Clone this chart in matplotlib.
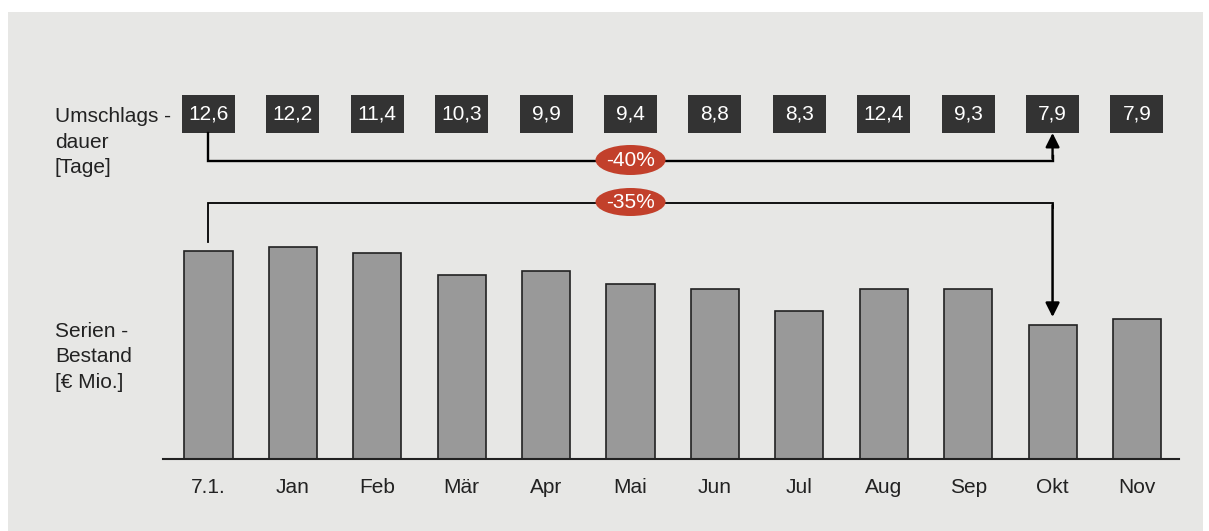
import matplotlib
matplotlib.use("Agg")
import matplotlib.pyplot as plt
from matplotlib.patches import Rectangle, Ellipse

# ---- data ----
categories = ["7.1.", "Jan", "Feb", "Mär", "Apr", "Mai", "Jun", "Jul", "Aug", "Sep", "Okt", "Nov"]
bestand = [20.8, 21.2, 20.6, 18.4, 18.8, 17.5, 17.0, 14.8, 17.0, 17.0, 13.4, 14.0]
umschlag = [12.6, 12.2, 11.4, 10.3, 9.9, 9.4, 8.8, 8.3, 12.4, 9.3, 7.9, 7.9]
umschlag_labels = ["12,6", "12,2", "11,4", "10,3", "9,9", "9,4", "8,8", "8,3", "12,4", "9,3", "7,9", "7,9"]
change_umschlag = "-40%"
change_bestand = "-35%"
from_idx, to_idx = 0, 10

plt.rcParams['font.family'] = ['Liberation Sans', 'DejaVu Sans']

W, H = 1209, 531
fig = plt.figure(figsize=(W / 100, H / 100), dpi=100, facecolor="white")

# gray panel
bg = Rectangle((8 / W, 0), (1203 - 8) / W, (H - 12) / H, transform=fig.transFigure,
               facecolor="#e7e7e5", edgecolor="none", zorder=-10)
fig.patches.append(bg)

# axes: left 163px, right 1179px, bottom at 459px from top, top at 12px from top
ax = fig.add_axes([163 / W, (H - 459) / H, (1179 - 163) / W, (459 - 12) / H])
ax.set_zorder(5)
ax.set_facecolor("none")
ax.set_xlim(-0.539, 11.498)
ax.set_ylim(0, 44.7)
for s in ["top", "right", "left"]:
    ax.spines[s].set_visible(False)
ax.spines["bottom"].set_linewidth(1.5)
ax.spines["bottom"].set_color("#222222")
ax.set_yticks([])
x = list(range(len(categories)))
ax.set_xticks(x)
ax.set_xticklabels(categories, fontsize=15, color="#222222")
ax.tick_params(axis="x", length=0, pad=13.5)

ax.bar(x, bestand, width=0.57, color="#999999", edgecolor="#222222", linewidth=1.2, zorder=2)

# value boxes
box_bottom, box_top = 32.6, 36.4
bw = 0.628
for i, lab in enumerate(umschlag_labels):
    ax.add_patch(Rectangle((i - bw / 2, box_bottom), bw, box_top - box_bottom,
                           facecolor="#333333", edgecolor="none", zorder=3, clip_on=False))
    ax.text(i, (box_bottom + box_top) / 2, lab, color="white", fontsize=15,
            ha="center", va="center", zorder=4)

# -40% bracket
y40 = 29.85
ax.plot([from_idx, from_idx, to_idx, to_idx], [box_bottom, y40, y40, y40 + 0.5],
        color="black", lw=1.7, solid_joinstyle="miter", zorder=3)
ax.annotate("", xy=(to_idx, box_bottom), xytext=(to_idx, y40 + 0.2),
            arrowprops=dict(arrowstyle="-|>", color="black", lw=1.7,
                            mutation_scale=21, shrinkA=0, shrinkB=0), zorder=3)
ax.add_patch(Ellipse(((from_idx + to_idx) / 2, y40 + 0.05), 0.83, 3.0,
                     facecolor="#c2402b", edgecolor="none", zorder=4))
ax.text((from_idx + to_idx) / 2, y40 + 0.05, change_umschlag, color="white", fontsize=15,
        ha="center", va="center", zorder=5)

# -35% bracket
y35 = 25.6
start_y = bestand[from_idx] + 0.9
end_y = bestand[to_idx] + 0.8
ax.plot([from_idx, from_idx, to_idx, to_idx], [start_y, y35, y35, y35 - 0.5],
        color="black", lw=1.3, solid_joinstyle="miter", zorder=3)
ax.annotate("", xy=(to_idx, end_y), xytext=(to_idx, y35 - 0.2),
            arrowprops=dict(arrowstyle="-|>", color="black", lw=1.8,
                            mutation_scale=21, shrinkA=0, shrinkB=0), zorder=3)
ax.add_patch(Ellipse(((from_idx + to_idx) / 2, y35 + 0.1), 0.83, 2.8,
                     facecolor="#c2402b", edgecolor="none", zorder=4))
ax.text((from_idx + to_idx) / 2, y35 + 0.1, change_bestand, color="white", fontsize=15,
        ha="center", va="center", zorder=5)

# row labels
fig.text(55 / W, 1 - 142 / H, "Umschlags -\ndauer\n[Tage]", fontsize=15, color="#222222",
         ha="left", va="center", linespacing=1.45)
fig.text(55 / W, 1 - 357 / H, "Serien -\nBestand\n[€ Mio.]", fontsize=15, color="#222222",
         ha="left", va="center", linespacing=1.45)

fig.savefig("out.png", dpi=100, facecolor="white")
